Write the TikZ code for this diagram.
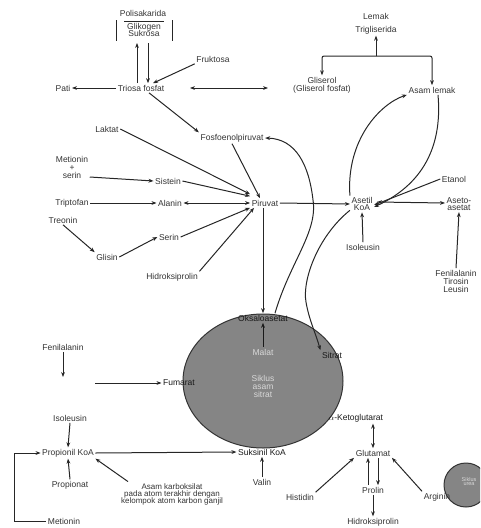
\documentclass[tikz,border=0pt]{standalone}
\usepackage{fontspec}
\setmainfont{Liberation Sans}
\usetikzlibrary{arrows.meta}
\begin{document}
\begin{tikzpicture}[x=1pt,y=-1pt,
  lbl/.style={font=\fontsize{8.5}{10}\selectfont, inner sep=1.5pt, align=center, text=black!80},
  inlbl/.style={lbl, text=black!15},
  ln/.style={line width=1pt, draw=black!85},
  arr/.style={ln, -{Stealth[length=5pt,width=3.8pt]}},
  dar/.style={ln, {Stealth[length=5pt,width=3.8pt]}-{Stealth[length=5pt,width=3.8pt]}},
  cyc/.style={fill=black!48, draw=black!80, line width=1pt}]
\useasboundingbox (0,0) rectangle (480,528);

% ---------- citric acid cycle ----------
\draw[cyc] (263,381) ellipse [x radius=80, y radius=67];
\begin{scope}
  \clip (0,0) rectangle (480,528);
  \draw[cyc] (466,485) circle (22);
\end{scope}

% ---------- top: carbohydrates and fats ----------
\node[lbl] (poli) at (143,13) {Polisakarida};
\node[lbl] (glik) at (144,30) {Glikogen\\[-3pt]Sukrosa};
\draw[ln] (116,20) -- (116,41);
\draw[ln] (172,20) -- (172,41);
\draw[ln, line width=0.6pt] (124,21) -- (164,21);
\coordinate (pbA) at (137,43);
\coordinate (pbB) at (148,43);

\node[lbl] (triosa) at (141,88) {Triosa fosfat};
\node[lbl] (pati) at (63,88) {Pati};
\node[lbl] (fruk) at (213,59) {Fruktosa};
\node[lbl] (lemak) at (376,16) {Lemak};
\node[lbl] (trig) at (376,30) {Trigliserida};
\node[lbl] (glis) at (322,85) {Gliserol\\[-2pt](Gliserol fosfat)};
\node[lbl] (asl) at (432,90) {Asam lemak};
\coordinate (lj) at (376,56);
\coordinate (tgA) at (190,88);
\coordinate (tgB) at (268,88);

\draw[arr] ([xshift=-4pt]triosa.north) -- (pbA);
\draw[arr] (pbB) -- ([xshift=7pt]triosa.north);
\draw[arr] (triosa.west) -- (pati.east);
\draw[arr] (fruk.south west) -- ([xshift=12pt]triosa.north);
\draw[dar] (tgA) -- (tgB);
\draw[arr] (lj) -- (trig.south);
\draw[arr, rounded corners=2pt] (lj) -| (glis.north);
\draw[arr, rounded corners=2pt] (lj) -| (asl.north);

% ---------- pyruvate and its sources ----------
\node[lbl] (pep) at (232,138) {Fosfoenolpiruvat};
\node[lbl] (lak) at (107,129) {Laktat};
\node[lbl] (mets) at (72,167) {Metionin\\[-2pt]+\\[-2pt]serin};
\node[lbl] (sis) at (168,181) {Sistein};
\node[lbl] (trip) at (72,203) {Triptofan};
\node[lbl] (ala) at (170,203) {Alanin};
\node[lbl] (treo) at (63,220) {Treonin};
\node[lbl] (gli) at (107,257) {Glisin};
\node[lbl] (ser) at (169,237) {Serin};
\node[lbl] (hyp) at (172,277) {Hidroksiprolin};
\node[lbl] (pir) at (265,203) {Piruvat};

\draw[arr] ([xshift=8pt]triosa.south) -- (pep.north west);
\draw[arr] (lak.east) -- ([yshift=4pt]pir.north west);
\draw[arr] ([yshift=-10pt]mets.east) -- (sis.west);
\draw[arr] (sis.east) -- ([yshift=2pt]pir.north west);
\draw[arr] (trip.east) -- (ala.west);
\draw[dar] (ala.east) -- (pir.west);
\draw[arr] (treo.south) -- (gli.north west);
\draw[arr] (gli.east) -- (ser.west);
\draw[arr] (ser.east) -- (pir.south west);
\draw[arr] (hyp.north east) -- ([xshift=4pt]pir.south west);
\draw[arr] (pep.south) -- ([xshift=-5pt]pir.north);

% ---------- acetyl-CoA ----------
\node[lbl] (ack) at (362,204) {Asetil\\[-3pt]KoA};
\node[lbl] (eta) at (454,179) {Etanol};
\node[lbl] (aca) at (459,204) {Aseto-\\[-3pt]asetat};
\node[lbl] (ftl) at (456,281) {Fenilalanin\\[-2pt]Tirosin\\[-2pt]Leusin};
\node[lbl] (ile) at (363,247) {Isoleusin};

\draw[arr] (pir.east) -- (ack.west);
\draw[arr] (ack.north west) .. controls (346,140) and (380,104) .. (asl.south west);
\draw[arr] ([xshift=6pt]asl.south) .. controls (442,140) and (428,182) .. ([yshift=-3pt]ack.east);
\draw[arr] (eta.west) -- ([yshift=-1pt]ack.east);
\draw[dar] ([shift={(3pt,2pt)}]ack.east) -- ([yshift=1pt]aca.west);
\draw[arr] (ftl.north) -- (aca.south);
\draw[arr] (ile.north) -- (ack.south);

% ---------- cycle members ----------
\node[lbl, text=black!90] (oaa) at (263,318) {Oksaloasetat};
\node[inlbl] (malat) at (263,352) {Malat};
\node[inlbl] (siklus) at (263,386) {Siklus\\[-2pt]asam\\[-2pt]sitrat};
\node[lbl, text=black!90] (sitrat) at (332,355) {Sitrat};
\node[lbl, text=black!90] (fum) at (179,383) {Fumarat};
\node[lbl, text=black!90] (sukc) at (262,452) {Suksinil KoA};
\node[lbl, text=black!90] (akg) at (356,418) {$\alpha$-Ketoglutarat};
\node[lbl] (val) at (262,482) {Valin};

\draw[arr] ([xshift=-2pt]pir.south) -- (oaa.north);
\draw[arr] ([xshift=12pt]oaa.north) .. controls (290,262) and (318,232) .. (313,200)
  .. controls (309,165) and (296,139) .. (pep.east);
\draw[arr] ([yshift=2pt]ack.south west) .. controls (318,236) and (302,280) .. (306,302)
  .. controls (309,320) and (316,334) .. (sitrat.north west);
\draw[arr, draw=black!90] (malat.north) -- (oaa.south);
\draw[arr] (val.north) -- (sukc.south);

% ---------- left: propionyl-CoA and fumarate feeders ----------
\node[lbl] (fen) at (63,347) {Fenilalanin};
\coordinate (fenend) at (63,377);
\coordinate (fumstart) at (95,383);
\draw[arr] (fen.south) -- (fenend);
\draw[arr] (fumstart) -- (fum.west);

\node[lbl] (ile2) at (70,418) {Isoleusin};
\node[lbl] (prop) at (68,453) {Propionil KoA};
\node[lbl] (propa) at (70,485) {Propionat};
\node[lbl, font=\fontsize{8}{9}\selectfont] (odd) at (172,494) {Asam karboksilat\\[-2pt]pada atom terakhir dengan\\[-2pt]kelompok atom karbon ganjil};
\node[lbl] (met2) at (64,521) {Metionin};
\coordinate (bk) at (14,453);

\draw[arr] (ile2.south) -- (prop.north);
\draw[arr] (propa.north) -- (prop.south);
\draw[arr] (prop.east) -- (sukc.west);
\draw[arr] ([xshift=-44pt]odd.north) -- (prop.south east);
\draw[arr] (met2.west) -| (bk) -- (prop.west);

% ---------- right: glutamate family ----------
\node[lbl] (glu) at (373,453) {Glutamat};
\node[lbl] (pro) at (373,490) {Prolin};
\node[lbl] (hyp2) at (373,522) {Hidroksiprolin};
\node[lbl] (his) at (300,497) {Histidin};
\node[lbl] (arg) at (437,497) {Arginin};
\node[lbl, text=black!15, font=\fontsize{5.5}{6}\selectfont] (urea) at (469,482) {Siklus\\[-2pt]urea};

\draw[dar] (glu.north |- akg.south) -- (glu.north);
\draw[arr] ([xshift=-5pt]pro.north) -- ([xshift=-5pt]glu.south);
\draw[arr] ([xshift=5pt]glu.south) -- ([xshift=5pt]pro.north);
\draw[arr] (pro.south) -- (hyp2.north);
\draw[arr] (his.north east) -- (glu.south west);
\draw[arr] (arg.north west) -- (glu.south east);
\end{tikzpicture}
\end{document}
